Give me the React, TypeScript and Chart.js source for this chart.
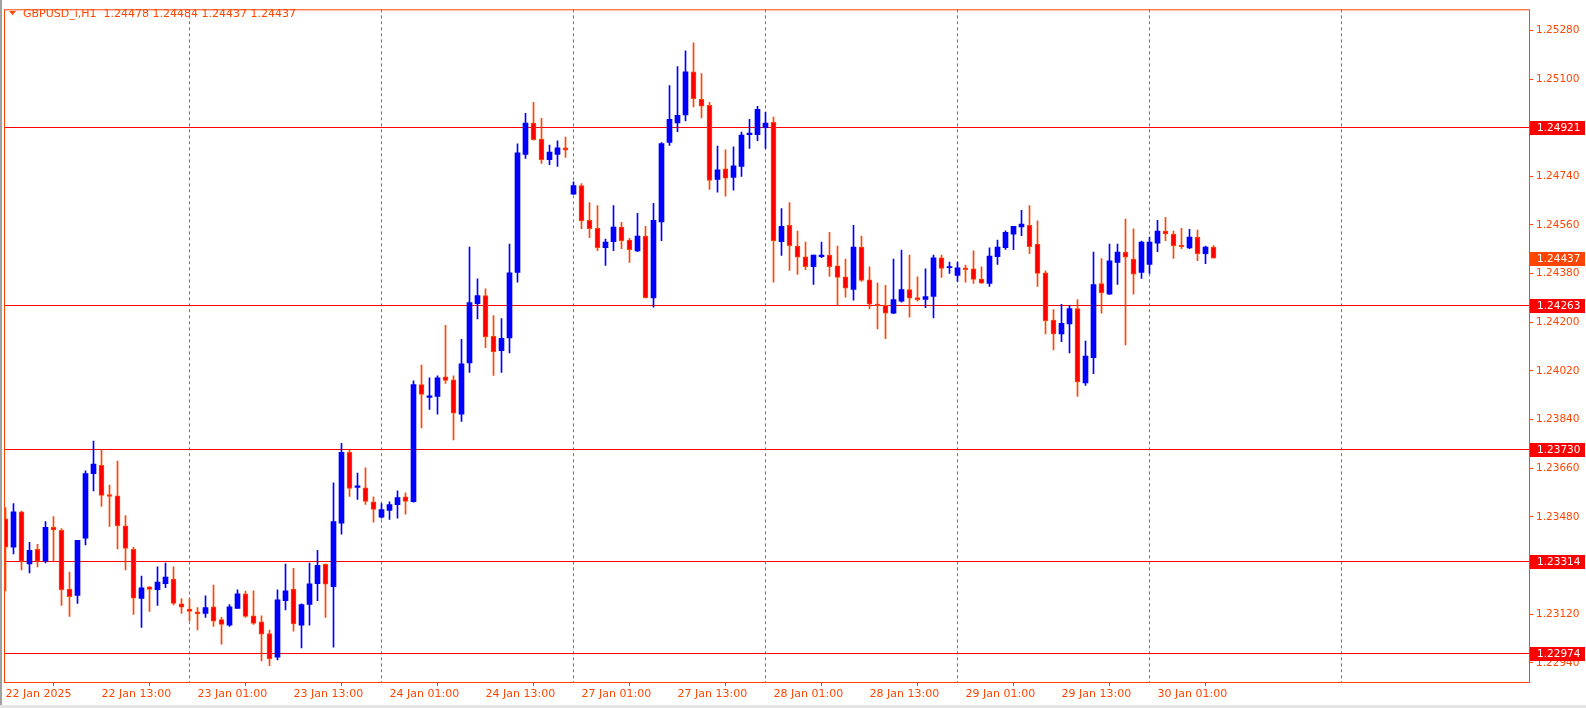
import React, { useEffect, useRef } from 'react';
import { Chart, registerables } from 'chart.js';

Chart.register(...registerables);

const symbolName = 'GBPUSD_i,H1';

const openP = [
  1.23473, 1.23368, 1.23499, 1.23306, 1.23360, 1.23316, 1.23441, 1.23430, 1.23213, 1.23189,
  1.23401, 1.23640, 1.23671, 1.23562, 1.23558, 1.23447, 1.23360, 1.23178, 1.23221, 1.23211,
  1.23233, 1.23250, 1.23158, 1.23139, 1.23129, 1.23123, 1.23147, 1.23100, 1.23079, 1.23141,
  1.23195, 1.23114, 1.23092, 1.23048, 1.22961, 1.23170, 1.23213, 1.23079, 1.23156, 1.23233,
  1.23304, 1.23222, 1.23457, 1.23719, 1.23589, 1.23587, 1.23536, 1.23479, 1.23504, 1.23525,
  1.23554, 1.23536, 1.23969, 1.23922, 1.23926, 1.23998, 1.23987, 1.23860, 1.24050, 1.24269,
  1.24299, 1.24148, 1.24095, 1.24142, 1.24384, 1.24821, 1.24937, 1.24878, 1.24802, 1.24821,
  1.24845, 1.24674, 1.24706, 1.24577, 1.24548, 1.24476, 1.24498, 1.24552, 1.24504, 1.24464,
  1.24519, 1.24290, 1.24571, 1.24865, 1.24938, 1.24967, 1.25127, 1.25025, 1.25003, 1.24729,
  1.24768, 1.24736, 1.24777, 1.24894, 1.24894, 1.24920, 1.24940, 1.24498, 1.24559, 1.24482,
  1.24442, 1.24406, 1.24443, 1.24449, 1.24409, 1.24368, 1.24322, 1.24478, 1.24357, 1.24267,
  1.24263, 1.24234, 1.24278, 1.24321, 1.24291, 1.24285, 1.24296, 1.24438, 1.24402, 1.24373,
  1.24401, 1.24398, 1.24360, 1.24344, 1.24443, 1.24476, 1.24526, 1.24553, 1.24559, 1.24489,
  1.24383, 1.24208, 1.24157, 1.24194, 1.24251, 1.23976, 1.24069, 1.24343, 1.24304, 1.24421,
  1.24460, 1.24434, 1.24384, 1.24414, 1.24493, 1.24537, 1.24526, 1.24486, 1.24475, 1.24515,
  1.24454, 1.24478,
];

const highP = [
  1.23514, 1.23529, 1.23501, 1.23386, 1.23378, 1.23463, 1.23481, 1.23437, 1.23276, 1.23393,
  1.23650, 1.23760, 1.23729, 1.23598, 1.23686, 1.23485, 1.23367, 1.23261, 1.23222, 1.23295,
  1.23309, 1.23295, 1.23178, 1.23177, 1.23144, 1.23188, 1.23228, 1.23108, 1.23155, 1.23210,
  1.23205, 1.23206, 1.23114, 1.23061, 1.23210, 1.23305, 1.23290, 1.23158, 1.23309, 1.23356,
  1.23306, 1.23606, 1.23752, 1.23726, 1.23642, 1.23661, 1.23554, 1.23529, 1.23536, 1.23576,
  1.23569, 1.23983, 1.24042, 1.23994, 1.24002, 1.24189, 1.24002, 1.24137, 1.24478, 1.24361,
  1.24324, 1.24225, 1.24214, 1.24489, 1.24860, 1.24973, 1.25014, 1.24955, 1.24856, 1.24871,
  1.24885, 1.24720, 1.24713, 1.24643, 1.24632, 1.24508, 1.24632, 1.24570, 1.24511, 1.24603,
  1.24555, 1.24640, 1.24865, 1.25076, 1.25146, 1.25204, 1.25234, 1.25120, 1.25014, 1.24852,
  1.24838, 1.24849, 1.24904, 1.24951, 1.24999, 1.24977, 1.24959, 1.24621, 1.24643, 1.24537,
  1.24497, 1.24449, 1.24497, 1.24533, 1.24482, 1.24434, 1.24559, 1.24519, 1.24405, 1.24346,
  1.24337, 1.24434, 1.24467, 1.24449, 1.24368, 1.24398, 1.24449, 1.24449, 1.24423, 1.24423,
  1.24412, 1.24464, 1.24405, 1.24475, 1.24504, 1.24538, 1.24555, 1.24614, 1.24632, 1.24575,
  1.24390, 1.24247, 1.24266, 1.24263, 1.24284, 1.24130, 1.24460, 1.24436, 1.24489, 1.24489,
  1.24582, 1.24546, 1.24500, 1.24515, 1.24577, 1.24588, 1.24537, 1.24548, 1.24544, 1.24541,
  1.24482, 1.24484,
];

const lowP = [
  1.23206, 1.23343, 1.23284, 1.23273, 1.23295, 1.23310, 1.23316, 1.23152, 1.23112, 1.23160,
  1.23376, 1.23576, 1.23519, 1.23445, 1.23361, 1.23284, 1.23119, 1.23071, 1.23130, 1.23152,
  1.23218, 1.23154, 1.23123, 1.23096, 1.23062, 1.23108, 1.23075, 1.23009, 1.23075, 1.23141,
  1.23108, 1.23082, 1.22947, 1.22929, 1.22951, 1.23136, 1.23057, 1.22995, 1.23079, 1.23170,
  1.23108, 1.22998, 1.23416, 1.23556, 1.23545, 1.23526, 1.23460, 1.23475, 1.23471, 1.23475,
  1.23490, 1.23534, 1.23809, 1.23878, 1.23860, 1.23974, 1.23765, 1.23833, 1.24014, 1.24212,
  1.24106, 1.24003, 1.24014, 1.24087, 1.24348, 1.24806, 1.24874, 1.24788, 1.24783, 1.24777,
  1.24810, 1.24673, 1.24546, 1.24513, 1.24465, 1.24410, 1.24465, 1.24472, 1.24421, 1.24461,
  1.24289, 1.24256, 1.24502, 1.24854, 1.24905, 1.24945, 1.24997, 1.24956, 1.24692, 1.24681,
  1.24667, 1.24689, 1.24740, 1.24843, 1.24872, 1.24843, 1.24348, 1.24447, 1.24392, 1.24377,
  1.24395, 1.24340, 1.24439, 1.24370, 1.24263, 1.24293, 1.24282, 1.24351, 1.24249, 1.24175,
  1.24139, 1.24232, 1.24274, 1.24219, 1.24278, 1.24254, 1.24216, 1.24366, 1.24381, 1.24351,
  1.24348, 1.24344, 1.24344, 1.24333, 1.24414, 1.24470, 1.24469, 1.24520, 1.24454, 1.24333,
  1.24157, 1.24098, 1.24128, 1.24087, 1.23926, 1.23966, 1.24010, 1.24234, 1.24303, 1.24340,
  1.24116, 1.24304, 1.24362, 1.24381, 1.24461, 1.24502, 1.24436, 1.24472, 1.24472, 1.24428,
  1.24417, 1.24437,
];

const closeP = [
  1.23368, 1.23499, 1.23316, 1.23356, 1.23316, 1.23441, 1.23432, 1.23211, 1.23185, 1.23393,
  1.23640, 1.23675, 1.23559, 1.23556, 1.23447, 1.23363, 1.23179, 1.23217, 1.23212, 1.23239,
  1.23257, 1.23160, 1.23146, 1.23130, 1.23121, 1.23144, 1.23094, 1.23082, 1.23147, 1.23195,
  1.23112, 1.23086, 1.23046, 1.22954, 1.23173, 1.23206, 1.23084, 1.23155, 1.23232, 1.23301,
  1.23231, 1.23463, 1.23719, 1.23585, 1.23595, 1.23537, 1.23508, 1.23507, 1.23525, 1.23551,
  1.23537, 1.23969, 1.23933, 1.23928, 1.23994, 1.23985, 1.23864, 1.24046, 1.24273, 1.24299,
  1.24146, 1.24091, 1.24141, 1.24383, 1.24827, 1.24937, 1.24876, 1.24802, 1.24830, 1.24845,
  1.24837, 1.24706, 1.24575, 1.24546, 1.24476, 1.24497, 1.24552, 1.24502, 1.24469, 1.24519,
  1.24291, 1.24577, 1.24861, 1.24951, 1.24966, 1.25127, 1.25027, 1.25000, 1.24725, 1.24764,
  1.24733, 1.24779, 1.24893, 1.24900, 1.24988, 1.24937, 1.24502, 1.24555, 1.24483, 1.24441,
  1.24406, 1.24449, 1.24449, 1.24406, 1.24366, 1.24326, 1.24478, 1.24355, 1.24267, 1.24261,
  1.24234, 1.24284, 1.24321, 1.24289, 1.24284, 1.24295, 1.24438, 1.24399, 1.24405, 1.24401,
  1.24395, 1.24359, 1.24345, 1.24445, 1.24478, 1.24533, 1.24555, 1.24563, 1.24480, 1.24381,
  1.24206, 1.24157, 1.24196, 1.24251, 1.23979, 1.24075, 1.24339, 1.24309, 1.24427, 1.24460,
  1.24441, 1.24378, 1.24497, 1.24497, 1.24537, 1.24527, 1.24483, 1.24480, 1.24515, 1.24454,
  1.24478, 1.24437,
];

// time axis labels, one every 12 hourly bars
const timeLabels = [
  '22 Jan 2025', '22 Jan 13:00', '23 Jan 01:00', '23 Jan 13:00', '24 Jan 01:00',
  '24 Jan 13:00', '27 Jan 01:00', '27 Jan 13:00', '28 Jan 01:00', '28 Jan 13:00',
  '29 Jan 01:00', '29 Jan 13:00', '30 Jan 01:00',
];
const labelStep = 12;
// bars where a new trading day starts (00:00)
const dayStartBars = [23, 47, 71, 95, 119, 143, 167];

const priceTicks = [
  1.2294, 1.2312, 1.233, 1.2348, 1.2366, 1.2384, 1.2402,
  1.242, 1.2438, 1.2456, 1.2474, 1.2492, 1.251, 1.2528,
];
const levelLines = [1.24921, 1.24263, 1.2373, 1.23314, 1.22974];

const X_MIN = -0.1875;
const X_MAX = 190.4375;
const Y_MIN = 1.22869;
const Y_MAX = 1.25358;

const FG = '#FF4500';
const UP = '#0000FF';
const DOWN_FILL = '#FF0000';
const DOWN_LINE = '#FF4500';
const LEVEL = '#FF0000';
const FONT = 'DejaVu Sans';

const isUp = (i: number) => closeP[i] >= openP[i];

export default function App() {
  const canvasRef = useRef<HTMLCanvasElement | null>(null);

  useEffect(() => {
    document.body.style.margin = '0';
    const canvas = canvasRef.current;
    if (!canvas) return;

    const overlay = {
      id: 'mt4overlay',
      beforeDraw(chart: any) {
        const ctx = chart.ctx;
        ctx.save();
        ctx.fillStyle = '#FFFFFF';
        ctx.fillRect(0, 0, chart.width, chart.height);
        ctx.restore();
      },
      beforeDatasetsDraw(chart: any) {
        const ctx = chart.ctx;
        const a = chart.chartArea;
        const xs = chart.scales.x;
        const ys = chart.scales.y;
        ctx.save();
        ctx.beginPath();
        ctx.rect(a.left, a.top, a.right - a.left, a.bottom - a.top);
        ctx.clip();
        // day separators
        ctx.strokeStyle = FG;
        ctx.lineWidth = 1;
        ctx.setLineDash([3, 3]);
        for (const b of dayStartBars) {
          const px = Math.floor(xs.getPixelForValue(b)) + 0.5;
          ctx.beginPath();
          ctx.moveTo(px, a.top);
          ctx.lineTo(px, a.bottom);
          ctx.stroke();
        }
        ctx.setLineDash([]);
        // horizontal levels
        ctx.strokeStyle = LEVEL;
        for (const lv of levelLines) {
          const py = Math.floor(ys.getPixelForValue(lv)) + 0.5;
          ctx.beginPath();
          ctx.moveTo(a.left, py);
          ctx.lineTo(a.right, py);
          ctx.stroke();
        }
        ctx.restore();
      },
      afterDraw(chart: any) {
        const ctx = chart.ctx;
        const a = chart.chartArea;
        const ys = chart.scales.y;
        ctx.save();
        // window chrome
        ctx.fillStyle = '#A0A0A0';
        ctx.fillRect(0, 0, 2, chart.height);
        ctx.fillStyle = '#E4E4E4';
        ctx.fillRect(0, chart.height - 3, chart.width, 3);
        // plot border
        ctx.strokeStyle = FG;
        ctx.lineWidth = 1;
        ctx.strokeRect(a.left + 0.5, a.top + 0.5, a.right - a.left, a.bottom - a.top);
        // price tags
        ctx.font = `10.5px "${FONT}"`;
        ctx.textBaseline = 'middle';
        ctx.textAlign = 'left';
        const tag = (v: number, bg: string) => {
          const py = Math.floor(ys.getPixelForValue(v)) + 0.5;
          ctx.fillStyle = bg;
          ctx.fillRect(a.right + 1, Math.round(py - 7), 55, 14);
          ctx.fillStyle = '#FFFFFF';
          ctx.fillText(v.toFixed(5), a.right + 8, py + 0.5);
        };
        for (const lv of levelLines) tag(lv, LEVEL);
        const last = closeP.length - 1;
        tag(closeP[last], FG);
        // title
        ctx.fillStyle = FG;
        ctx.beginPath();
        ctx.moveTo(9, 11);
        ctx.lineTo(16, 11);
        ctx.lineTo(12.5, 15);
        ctx.closePath();
        ctx.fill();
        ctx.font = `11px "${FONT}"`;
        const title = `${symbolName}  ${openP[last].toFixed(5)} ${highP[last].toFixed(5)} ${lowP[last].toFixed(5)} ${closeP[last].toFixed(5)}`;
        ctx.fillText(title, 23, 14);
        ctx.restore();
      },
    };

    const chart = new Chart(canvas, {
      type: 'bar',
      data: {
        datasets: [
          {
            label: 'body',
            data: openP.map((o, i) => ({ x: i, y: [o, closeP[i]] })) as any,
            backgroundColor: (c: any) => (isUp(c.dataIndex) ? UP : DOWN_FILL),
            borderColor: (c: any) => (isUp(c.dataIndex) ? UP : DOWN_LINE),
            borderWidth: (c: any) => (isUp(c.dataIndex) ? 0 : 1),
            borderSkipped: false,
            barThickness: 5,
            minBarLength: 1,
            grouped: false,
            order: 0,
          } as any,
          {
            label: 'wick',
            data: highP.map((h, i) => ({ x: i, y: [lowP[i], h] })) as any,
            backgroundColor: (c: any) => (isUp(c.dataIndex) ? UP : DOWN_LINE),
            borderWidth: 0,
            barThickness: 1,
            minBarLength: 1,
            grouped: false,
            order: 1,
          } as any,
        ],
      },
      options: {
        animation: false,
        responsive: true,
        maintainAspectRatio: false,
        devicePixelRatio: 1,
        events: [],
        layout: { padding: { top: 3, left: 4, right: 0, bottom: 0 } },
        plugins: {
          legend: { display: false },
          tooltip: { enabled: false },
          title: { display: false },
        },
        scales: {
          x: {
            type: 'linear',
            position: 'bottom',
            min: X_MIN,
            max: X_MAX,
            bounds: 'data',
            offset: false,
            grid: {
              display: true,
              drawOnChartArea: false,
              drawTicks: true,
              tickLength: 4,
              color: FG,
            },
            border: { display: false },
            ticks: {
              autoSkip: false,
              maxRotation: 0,
              minRotation: 0,
              align: 'start',
              padding: 2,
              color: FG,
              font: { family: FONT, size: 11 },
              callback: (_v: any, idx: number) => timeLabels[idx],
            },
            afterBuildTicks: (s: any) => {
              s.ticks = timeLabels.map((_, k) => ({ value: k * labelStep }));
            },
            afterFit: (s: any) => {
              s.height = 26;
            },
          } as any,
          y: {
            type: 'linear',
            position: 'right',
            min: Y_MIN,
            max: Y_MAX,
            bounds: 'data',
            grid: {
              display: true,
              drawOnChartArea: false,
              drawTicks: true,
              tickLength: 4,
              color: FG,
            },
            border: { display: false },
            ticks: {
              autoSkip: false,
              padding: 3,
              color: FG,
              font: { family: FONT, size: 10.5 },
              callback: (v: any) => Number(v).toFixed(5),
            },
            afterBuildTicks: (s: any) => {
              s.ticks = priceTicks.map((v) => ({ value: v }));
            },
            afterFit: (s: any) => {
              s.width = 57;
            },
          } as any,
        },
      },
      plugins: [overlay],
    });

    return () => {
      chart.destroy();
    };
  }, []);

  return (
    <div style={{ width: '1586px', height: '708px', position: 'relative' }}>
      <canvas ref={canvasRef} />
    </div>
  );
}
